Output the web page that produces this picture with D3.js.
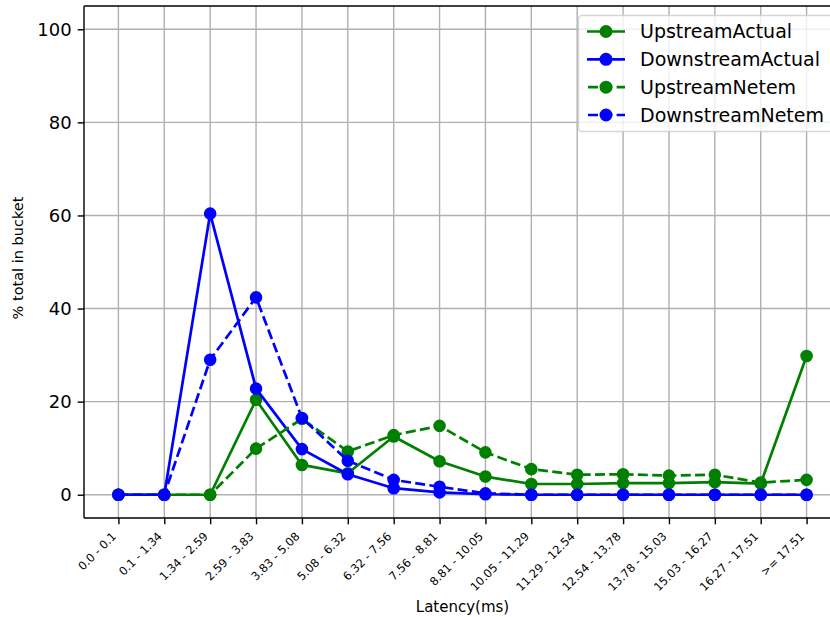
<!DOCTYPE html>
<html>
<head>
<meta charset="utf-8">
<script src="https://cdn.jsdelivr.net/npm/d3@7"></script>
<style>
  html, body { margin: 0; padding: 0; background: #fff; }
  svg { display: block; font-family: "DejaVu Sans", sans-serif; }
</style>
</head>
<body>
<div id="chart"></div>
<script>
const categories = ["0.0 - 0.1", "0.1 - 1.34", "1.34 - 2.59", "2.59 - 3.83", "3.83 - 5.08",
  "5.08 - 6.32", "6.32 - 7.56", "7.56 - 8.81", "8.81 - 10.05", "10.05 - 11.29",
  "11.29 - 12.54", "12.54 - 13.78", "13.78 - 15.03", "15.03 - 16.27", "16.27 - 17.51", ">= 17.51"];
const upstreamActual   = [0, 0, 0, 20.4, 6.4, 4.6, 12.5, 7.2, 3.9, 2.3, 2.3, 2.5, 2.5, 2.7, 2.4, 29.8];
const downstreamActual = [0, 0, 60.4, 22.8, 9.8, 4.4, 1.4, 0.5, 0.1, 0, 0, 0, 0, 0, 0, 0];
const upstreamNetem    = [0, 0, 0, 9.9, 16.3, 9.3, 12.8, 14.8, 9.1, 5.5, 4.3, 4.4, 4.1, 4.3, 2.6, 3.2];
const downstreamNetem  = [0, 0, 29.0, 42.4, 16.5, 7.3, 3.2, 1.7, 0.3, 0, 0, 0, 0, 0, 0, 0];
const yTicks = [0, 20, 40, 60, 80, 100];

const seriesList = [
  { name: "UpstreamActual", values: upstreamActual, color: "#008000", dashed: false },
  { name: "DownstreamActual", values: downstreamActual, color: "#0000ff", dashed: false },
  { name: "UpstreamNetem", values: upstreamNetem, color: "#008000", dashed: true },
  { name: "DownstreamNetem", values: downstreamNetem, color: "#0000ff", dashed: true }
];

const W = 830, H = 617;
const mLeft = 84, mRight = 841, mTop = 6, mBottom = 518;

const svg = d3.select("#chart").append("svg").attr("width", W).attr("height", H);

const x = d3.scalePoint().domain(categories).range([mLeft, mRight]).padding(0.75);
const y = d3.scaleLinear().domain([-5, 105]).range([mBottom, mTop]);

// grid
const grid = svg.append("g").attr("stroke", "#b0b0b0").attr("stroke-width", 1.4);
grid.selectAll("line.vx").data(categories).enter().append("line")
  .attr("x1", d => x(d)).attr("x2", d => x(d)).attr("y1", mTop).attr("y2", mBottom);
grid.selectAll("line.hy").data(yTicks).enter().append("line")
  .attr("x1", mLeft).attr("x2", mRight).attr("y1", d => y(d)).attr("y2", d => y(d));

// axes
const xAxis = svg.append("g").attr("transform", `translate(0,${mBottom})`)
  .call(d3.axisBottom(x).tickSize(6.3).tickPadding(6).tickSizeOuter(0));
xAxis.select(".domain").remove();
xAxis.selectAll(".tick line").attr("stroke", "#000").attr("stroke-width", 1.4);
xAxis.selectAll(".tick text")
  .attr("font-size", 11.5).attr("font-family", "DejaVu Sans").attr("fill", "#000")
  .attr("text-anchor", "end").attr("dy", null).attr("y", null)
  .attr("transform", "translate(-2,19) rotate(-45)");

const yAxis = svg.append("g").attr("transform", `translate(${mLeft},0)`)
  .call(d3.axisLeft(y).tickValues(yTicks).tickSize(6.3).tickPadding(6).tickSizeOuter(0));
yAxis.select(".domain").remove();
yAxis.selectAll(".tick line").attr("stroke", "#000").attr("stroke-width", 1.4);
yAxis.selectAll(".tick text").attr("font-size", 18).attr("font-family", "DejaVu Sans").attr("fill", "#000");

// spines
const sp = svg.append("g").attr("stroke", "#000").attr("stroke-width", 1.4).attr("fill", "none");
sp.append("line").attr("x1", mLeft).attr("x2", mLeft).attr("y1", mTop).attr("y2", mBottom);
sp.append("line").attr("x1", mLeft).attr("x2", mRight).attr("y1", mBottom).attr("y2", mBottom);
sp.append("line").attr("x1", mLeft).attr("x2", mRight).attr("y1", mTop).attr("y2", mTop);
sp.append("line").attr("x1", mRight).attr("x2", mRight).attr("y1", mTop).attr("y2", mBottom);

// lines
const line = d3.line().x((d, i) => x(categories[i])).y(d => y(d));
seriesList.forEach(s => {
  const g = svg.append("g");
  g.append("path").datum(s.values).attr("d", line)
    .attr("fill", "none").attr("stroke", s.color).attr("stroke-width", 2.7)
    .attr("stroke-linejoin", "round")
    .attr("stroke-linecap", s.dashed ? "butt" : "square")
    .attr("stroke-dasharray", s.dashed ? "10,4.3" : null);
  g.selectAll("circle").data(s.values).enter().append("circle")
    .attr("cx", (d, i) => x(categories[i])).attr("cy", d => y(d))
    .attr("r", 5.4).attr("fill", s.color).attr("stroke", s.color).attr("stroke-width", 1.8);
});

// labels
svg.append("text").attr("x", (mLeft + mRight) / 2).attr("y", 612)
  .attr("text-anchor", "middle").attr("font-size", 15).text("Latency(ms)");
svg.append("text").attr("transform", `translate(23,258) rotate(-90)`)
  .attr("text-anchor", "middle").attr("font-size", 14.5).text("% total in bucket");

// legend
const lg = svg.append("g");
lg.append("rect").attr("x", 578.5).attr("y", 15.5).attr("width", 270).attr("height", 116)
  .attr("rx", 3.6).attr("fill", "#fff").attr("fill-opacity", 0.8)
  .attr("stroke", "#cccccc").attr("stroke-opacity", 0.8).attr("stroke-width", 1.4);
const rowY = d3.scaleLinear().domain([0, 3]).range([31.5, 115]);
seriesList.forEach((s, i) => {
  const yy = rowY(i);
  lg.append("line").attr("x1", 587).attr("x2", 625).attr("y1", yy).attr("y2", yy)
    .attr("stroke", s.color).attr("stroke-width", 2.7)
    .attr("stroke-dasharray", s.dashed ? "10,4.3" : null)
    .attr("stroke-dashoffset", s.dashed ? -1 : null);
  lg.append("circle").attr("cx", 606).attr("cy", yy).attr("r", 5.6)
    .attr("fill", s.color).attr("stroke", s.color).attr("stroke-width", 1.8);
  lg.append("text").attr("x", 640).attr("y", yy).attr("dy", "0.35em")
    .attr("font-size", 19).attr("fill", "#000").text(s.name);
});
</script>
</body>
</html>
